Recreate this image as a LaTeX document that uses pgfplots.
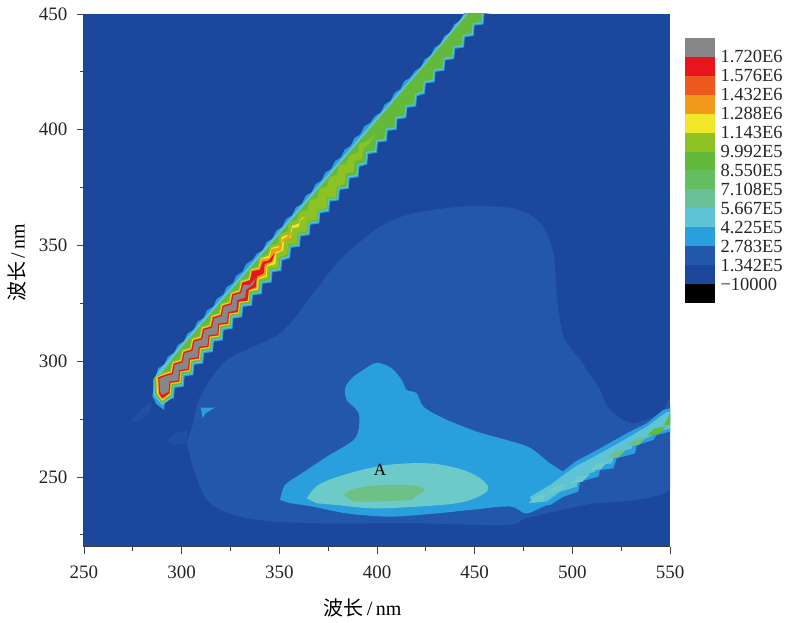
\documentclass[border=0pt]{standalone}
\usepackage{pgfplots}
\pgfplotsset{compat=1.18}
\usepackage{fontspec}
\setmainfont{Liberation Serif}
\newfontfamily\cjk{Noto Sans CJK SC}
\definecolor{cBg}{HTML}{1B489D}
\definecolor{cMid}{HTML}{2257AB}
\definecolor{cLB}{HTML}{2A9FDD}
\definecolor{cCy}{HTML}{5FC3D6}
\definecolor{cPale}{HTML}{6CCBC9}
\definecolor{cTeal}{HTML}{6DC187}
\definecolor{cGr}{HTML}{62B93C}
\definecolor{cYG}{HTML}{8DC224}
\definecolor{cYe}{HTML}{F1E62A}
\definecolor{cOr}{HTML}{F39A1C}
\definecolor{cOR}{HTML}{EE5A1E}
\definecolor{cRe}{HTML}{E8141E}
\definecolor{cGy}{HTML}{87878A}
\begin{document}
\begin{tikzpicture}
\path[use as bounding box] (-84pt,-75.5pt) rectangle (703pt,546.5pt);
\begin{axis}[
  at={(0pt,0pt)},anchor=south west,scale only axis,width=586pt,height=532.5pt,
  xmin=250,xmax=550,ymin=220,ymax=450,
  axis lines*=left,axis line style={-,line width=1pt,draw=black!75},
  axis background/.style={fill=cBg},axis on top,
  xtick={250,300,350,400,450,500,550},ytick={250,300,350,400,450},
  minor xtick={275,325,375,425,475,525},minor ytick={225,275,325,375,425},
  tick align=outside,major tick length=7pt,minor tick length=4pt,
  tick style={line width=0.9pt,draw=black!75},
  /pgf/number format/assume math mode=true,
  tick label style={font=\fontsize{19}{19}\selectfont,text=black!85},
  xticklabel style={yshift=-9pt},yticklabel style={xshift=-6pt},
  xlabel={{\cjk 波长}\,/\,nm},ylabel={{\cjk 波长}\,/\,nm},
  xlabel style={font=\fontsize{20}{20}\selectfont,at={(axis description cs:0.4753,-0.1155)},anchor=center},
  ylabel style={font=\fontsize{20}{20}\selectfont,at={(axis description cs:-0.1143,0.533)},anchor=center,rotate=0},
]
% 2.783E5 region
\addplot[fill=cMid,draw=none,forget plot,smooth,tension=0.5] coordinates {(302.6,264.6)(306.9,251.6)(314.6,238.6)(333.4,232.2)(367.5,230)(418.7,230)(466.5,229.3)(476.7,232.2)(505.7,237.9)(550,245)(550,282)(546,278)(531,273.3)(519.3,279)(514.2,287.6)(504,300.6)(495.5,310.6)(492.1,327.9)(490.4,346.6)(483.6,359.6)(469.9,366)(444.3,366.8)(418.7,363.9)(401.6,358.2)(381.1,343.8)(367.5,329.4)(350.4,312.1)(323.1,300.6)(309.5,284.7)(306,273.2)} --cycle;
\addplot[fill=cMid!50!cBg,draw=none,forget plot] coordinates {(273.6,273.9)(279,279)(284.7,283)(284,278)(278,274)} --cycle;
\addplot[fill=cMid!50!cBg,draw=none,forget plot] coordinates {(292.4,265.3)(297,269)(303,270)(302.6,265)(296,264)} --cycle;
% 4.225E5 region
\addplot[fill=cLB,draw=none,forget plot,smooth,tension=0.5] coordinates {(350.4,240.1)(352.9,246.6)(361.5,251.6)(374.3,258.8)(388.8,266.7)(391,276.1)(388.8,279.7)(384.5,283.3)(383.6,288.3)(387.1,292.7)(393,296.3)(399.9,299.4)(407.5,297)(412.7,291.9)(415.2,287.6)(420.3,286.2)(423.8,280.4)(434,275.4)(451.1,269.6)(466.4,266)(478.4,262.6)(488.6,255.9)(496.3,251.6)(495,250)(490,240)(482,236)(475.8,234.3)(468,237.3)(447.7,235.8)(430.6,234.3)(406.7,232.9)(384.5,234.3)(367.4,237.2)(355.5,238.7)} --cycle;
\addplot[fill=cLB,draw=none,forget plot] coordinates {(309.7,280)(317.1,280)(312,277.4)(310.8,275.3)} --cycle;
% 5.667E5
\addplot[fill=cPale,draw=none,forget plot,smooth,tension=0.6] coordinates {(364,240.8)(370,246.6)(382.8,250.9)(399.9,254.5)(415.2,255.9)(430.6,255.6)(444.2,253)(452.8,249.5)(457,245.1)(451.9,241.5)(440.8,238.7)(420.3,237.2)(398.2,236.5)(379.4,237.9)(369.1,238.7)} --cycle;
% 7.108E5
\addplot[fill=cTeal,draw=none,forget plot,smooth,tension=0.5] coordinates {(382.8,242.3)(387.1,244.7)(396.5,246.2)(410.1,246.6)(420.3,246.2)(424.6,244.4)(419.5,241.5)(416.9,240.1)(399.9,239.4)(387.9,239.4)} --cycle;
% second-order band
\addplot[fill=cLB,draw=none,forget plot] coordinates {(478.4,237.2)(476,240)(488.6,248)(501.4,256.6)(514.2,262.4)(527.9,268.9)(538.1,273.2)(546.6,279)(550,279.7)(550,269.6)(543.2,268.2)(541.5,266)(533,263.8)(532.1,260.2)(522.7,258.1)(521,253.8)(514.2,253)(513.4,250.2)(504,248)(503,243.7)(495.4,241.5)(488.6,237.9)} --cycle;
\addplot[fill=cCy,draw=none,forget plot] coordinates {(478.4,241.5)(488.6,246.6)(501.4,254.5)(514.2,260.2)(527.9,266.7)(538.1,271.8)(548.4,278.2)(550,278.2)(550,271)(543.2,269.6)(539.8,267.4)(531.3,265.3)(530.4,262.4)(521.9,260.2)(520.2,255.9)(512.5,255.2)(511.6,252.3)(503.1,250.2)(502.3,245.8)(493.7,243.7)(486.9,239.4)(479.2,238.9)} --cycle;
\addplot[fill=cPale,draw=none,forget plot] coordinates {(477.6,238.8)(481.6,241.8)(487.6,242.8)(483.6,239.3)} --cycle;
\addplot[fill=cPale,draw=none,forget plot] coordinates {(487,243.1)(491,246.1)(497,247.1)(493,243.6)} --cycle;
\addplot[fill=cPale,draw=none,forget plot] coordinates {(499,247.4)(503,250.4)(509,251.4)(505,247.9)} --cycle;
\addplot[fill=cPale,draw=none,forget plot] coordinates {(508.4,252.8)(512.4,255.8)(518.4,256.8)(514.4,253.3)} --cycle;
\addplot[fill=cTeal,draw=none,forget plot] coordinates {(517.7,258)(521.7,261)(527.7,262)(523.7,258.5)} --cycle;
\addplot[fill=cTeal,draw=none,forget plot] coordinates {(528,263.3)(532,266.3)(538,267.3)(534,263.8)} --cycle;
\addplot[fill=cGr,draw=none,forget plot] coordinates {(538.2,268)(542.2,271)(548.2,272)(544.2,268.5)} --cycle;
\addplot[fill=cGr,draw=none,forget plot] coordinates {(547,272.5)(550,277.5)(550,272.5)} --cycle;
% first-order band: outermost
\addplot[fill=cLB,draw=none,forget plot] coordinates {(285,285)(287,281.5)(291,279)(291.5,283.5)(296,284)(296.5,288.5)(301,289)(301.5,293.5)(306,294)(306.5,298.5)(311,299)(311.5,303.5)(316,304)(316.5,308.5)(321,309)(321.5,313.5)(326,314)(326.5,318.5)(331,319)(331.5,323.5)(336,324)(336.5,328.5)(341,329)(341.5,333.5)(346,334)(346.5,338.5)(351,339)(351.5,343.5)(355.5,344.5)(356,349)(360.5,349.5)(361,354)(365.5,354.5)(366,359)(370.5,359.5)(371,364)(375.5,364.5)(376,369)(380.5,369.5)(381,374)(385.5,374.5)(386,379)(390.5,379.5)(391,384)(395,385)(395.5,389.5)(400,390)(400.5,394.5)(405,395)(405.5,399.5)(410,400)(410.5,404.5)(415,405)(415.5,409.5)(420,410)(420.5,414.5)(424.5,415.5)(425,420)(429.5,420.5)(430,425)(434.5,425.5)(435,430)(439.5,430.5)(440,435)(444.5,435.5)(445,440)(449.5,440.5)(450,445)(454.5,445.5)(455,450)(459.5,450.5)(460,455)
(447.5,455)(447.5,452)(444.5,450.5)(442.5,447)(439.5,445.5)(437.5,442)(434.5,440.5)(432.5,437)(429.5,435.5)(427.5,432)(424.5,430.5)(422.5,427)(419.5,425.5)(417,422.5)(414,421)(412,417.5)(409,416)(407,412.5)(404,411)(402,407.5)(399,406)(396.5,403)(393.5,401.5)(391.5,398)(388.5,396.5)(386.5,393)(383.5,391.5)(381.5,388)(378.5,386.5)(376.5,383)(373.5,381.5)(371.5,378)(368.5,376.5)(366.5,373)(363.5,371.5)(361.5,368)(358.5,366.5)(356.5,363)(353.5,361.5)(351.5,358)(348.5,356.5)(346.5,353)(343.5,351.5)(341.5,348)(338.5,346.5)(336.25,343.75)(333,342)(331.25,338.75)(328,337)(326.25,333.75)(323,332)(321.25,328.75)(318,327)(316.25,323.75)(313,322)(311.25,318.75)(308,317)(306.25,313.75)(303,312)(301.25,308.75)(298,307)(296.25,303.75)(293,302)(291.25,298.75)(288,297)(287,294)} --cycle;
% cyan
\addplot[fill=cCy,draw=none,forget plot] coordinates {(285.5,285.5)(290,281)(295.5,284.5)(296,289)(300.5,289.5)(301,294)(305.5,294.5)(306,299)(310.5,299.5)(311,304)(315.5,304.5)(316,309)(320.5,309.5)(321,314)(325.5,314.5)(326,319)(330.5,319.5)(331,324)(335.5,324.5)(336,329)(340.5,329.5)(341,334)(345.5,334.5)(346,339)(350.5,339.5)(351,344)(355,345)(355.5,349.5)(360,350)(360.5,354.5)(365,355)(365.5,359.5)(370,360)(370.5,364.5)(375,365)(375.5,369.5)(380,370)(380.5,374.5)(385,375)(385.5,379.5)(390,380)(390.5,384.5)(394.5,385.5)(395,390)(399.5,390.5)(400,395)(404.5,395.5)(405,400)(409.5,400.5)(410,405)(414.5,405.5)(415,410)(419.5,410.5)(420,415)(424,416)(424.5,420.5)(429,421)(429.5,425.5)(434,426)(434.5,430.5)(439,431)(439.5,435.5)(444,436)(444.5,440.5)(449,441)(449.5,445.5)(454,446)(454.5,450.5)(459,451)(459,455)
(449,455)(446.5,451.5)(424,428.5)(397,402.5)(337,343.5)(296,303.5)(288,295.5)(285.5,292)} --cycle;
% green
\addplot[fill=cGr,draw=none,forget plot] coordinates {(286.5,285.5)(290,282)(295,285)(295.5,289.5)(300,290)(300.5,294.5)(305,295)(305.5,299.5)(310,300)(310.5,304.5)(315,305)(315.5,309.5)(320,310)(320.5,314.5)(325,315)(325.5,319.5)(330,320)(330.5,324.5)(335,325)(335.5,329.5)(340,330)(340.5,334.5)(345,335)(345.5,339.5)(350,340)(350.5,344.5)(354.5,345.5)(355,350)(359.5,350.5)(360,355)(364.5,355.5)(365,360)(369.5,360.5)(370,365)(374.5,365.5)(375,370)(379.5,370.5)(380,375)(384.5,375.5)(385,380)(389.5,380.5)(390,385)(394,386)(394.5,390.5)(399,391)(399.5,395.5)(404,396)(404.5,400.5)(409,401)(409.5,405.5)(414,406)(414.5,410.5)(419,411)(419.5,415.5)(423.5,416.5)(424,421)(428.5,421.5)(429,426)(433.5,426.5)(434,431)(438.5,431.5)(439,436)(443.5,436.5)(444,441)(448.5,441.5)(449,446)(453.5,446.5)(454,451)(458.5,451.5)(458.5,455)
(451,455)(448,451.5)(426,429.5)(398,402)(338,343)(298,304)(289.5,294.5)(286,293)} --cycle;
% yellow-green
\addplot[fill=cYG,draw=none,forget plot] coordinates {(287,286)(290,282.5)(294.5,285.5)(295,290)(299.5,290.5)(300,295)(304.5,295.5)(305,300)(309.5,300.5)(310,305)(314.5,305.5)(315,310)(319.5,310.5)(320,315)(324.5,315.5)(325,320)(329.5,320.5)(330,325)(334.5,325.5)(335,330)(339.5,330.5)(340,335)(344.5,335.5)(345,340)(349.5,340.5)(350,345)(354,346)(354.5,350.5)(359,351)(359.5,355.5)(364,356)(364.5,360.5)(369,361)(369.5,365.5)(374,366)(374.5,370.5)(379,371)(379.5,375.5)(383.5,376.5)(384,381)(388,382)(388.5,386.5)(392.5,387.5)(393,392)(396,394)(399,398)
(395,395)(391,394)(390,390)(386,389)(384.5,385.5)(380.5,384.5)(379.5,380.5)(375.5,379.5)(374.5,375.5)(370.5,374.5)(369.5,370.5)(365.5,369.5)(364.5,365.5)(360.5,364.5)(359,361)(355,360)(354,356)(350,355)(349,351)(345,350)(344,346)(340,345)(339,341)(335,340)(334,336)(330,335)(329,331)(325,330)(324,326)(320,325)(319,321)(315,320)(314,316)(310,315)(309,311)(305,310)(304,306)(300,305)(299,301)(295,300)(294,296)(290,295)(286.5,293)} --cycle;
% yellow
\addplot[fill=cYe,draw=none,forget plot] coordinates {(287.5,286)(290,283)(294.25,285.75)(294.75,290.25)(299.25,290.75)(299.75,295.25)(304.25,295.75)(304.75,300.25)(309.25,300.75)(309.75,305.25)(314.25,305.75)(314.75,310.25)(319.25,310.75)(319.75,315.25)(324.25,315.75)(324.75,320.25)(329.25,320.75)(329.75,325.25)(334.25,325.75)(334.75,330.25)(339,331)(339.5,335.5)(343.5,336.5)(344,341)(348,342)(348.5,346.5)(352,348)(352.5,352.5)(356,353.5)(356.5,357.5)(360,358)(360.5,361)(363,362)
(361.5,362)(360,359.5)(356.5,358.5)(355.5,355)(351.25,353.75)(350.5,350)(346,349)(344.5,345.5)(340.5,344.5)(339.5,340.5)(335.5,339.5)(334.5,335.5)(330.5,334.5)(329.5,330.5)(325.5,329.5)(324.5,325.5)(320.5,324.5)(319.5,320.5)(315.5,319.5)(314.5,315.5)(310.5,314.5)(309.5,310.5)(305.5,309.5)(304.5,305.5)(300.5,304.5)(299.5,300.5)(295.5,299.5)(294.5,295.5)(290.5,294.5)(287,293)} --cycle;
% orange
\addplot[fill=cOr,draw=none,forget plot] coordinates {(288,286)(290,283.5)(294,286)(294.5,290.5)(299,291)(299.5,295.5)(304,296)(304.5,300.5)(309,301)(309.5,305.5)(314,306)(314.5,310.5)(319,311)(319.5,315.5)(324,316)(324.5,320.5)(329,321)(329.5,325.5)(334,326)(334.5,330.5)(338.5,331.5)(339,336)(343,337)(343.5,341.5)(347,343)(347.5,347)(351,348)(351.5,351.5)(355,353)(357,356.5)
(354,354)(351.5,352.5)(349.5,349)(346,348.5)(345,344.5)(340.75,344.25)(339.75,340.25)(335.75,339.25)(334.75,335.25)(330.75,334.25)(329.75,330.25)(325.75,329.25)(324.75,325.25)(320.75,324.25)(319.75,320.25)(315.75,319.25)(314.75,315.25)(310.75,314.25)(309.75,310.25)(305.75,309.25)(304.75,305.25)(300.75,304.25)(299.75,300.25)(295.75,299.25)(294.75,295.25)(290.75,294.25)(287.5,293)} --cycle;
% red
\addplot[fill=cRe,draw=none,forget plot] coordinates {(288.5,286)(290,284)(293.75,286.25)(294.25,290.75)(298.75,291.25)(299.25,295.75)(303.75,296.25)(304.25,300.75)(308.75,301.25)(309.25,305.75)(313.75,306.25)(314.25,310.75)(318.75,311.25)(319.25,315.75)(323.75,316.25)(324.25,320.75)(328.75,321.25)(329.25,325.75)(333.75,326.25)(334.25,330.75)(338,332)(338.5,336.5)(342,338)(342.5,342)(346,343)(348,347)
(344.5,343.5)(341.5,343)(340,339.5)(336,339)(335,335)(331,334)(330,330)(326,329)(325,325)(321,324)(320,320)(316,319)(315,315)(311,314)(310,310)(306,309)(305,305)(301,304)(300,300)(296,299)(295,295)(291,294)(288,293)} --cycle;
% grey
\addplot[fill=cGy,draw=none,forget plot] coordinates {(289,287)(289.8,285.5)(293.25,286.75)(293.75,291.25)(298.25,291.75)(298.75,296.25)(303.25,296.75)(303.75,301.25)(308.25,301.75)(308.75,306.25)(313.25,306.75)(313.75,311.25)(318.25,311.75)(318.75,316.25)(323.25,316.75)(323.75,321.25)(328,322)(328.5,326.5)(332.5,327.5)(333,331)(336.5,333)(338,336)
(335,333)(331.5,333)(330.5,329.5)(326.5,328.5)(325.5,324.5)(321.5,323.5)(320.5,319.5)(316.5,318.5)(315.5,314.5)(311.5,313.5)(310.5,309.5)(306.5,308.5)(305.5,304.5)(301.5,303.5)(300.5,299.5)(296.5,298.5)(295.5,294.5)(291.5,293.5)(288.5,292.5)} --cycle;
\node[font=\fontsize{17}{17}\selectfont] at (axis cs:401.5,253) {A};
\end{axis}
\begin{axis}[
  at={(601pt,243.5pt)},anchor=south west,scale only axis,width=30pt,height=265pt,
  xmin=0,xmax=1,ymin=0,ymax=14,
  hide x axis,axis y line=right,y axis line style={draw=none},
  major tick length=0pt,ytick={1,...,13},
  yticklabels={−10000,1.342E5,2.783E5,4.225E5,5.667E5,7.108E5,8.550E5,9.992E5,1.143E6,1.288E6,1.432E6,1.576E6,1.720E6},
  yticklabel style={anchor=west,xshift=2pt,inner ysep=1pt,font=\fontsize{18.5}{18.5}\selectfont,text=black!85},
]
\addplot[fill=black,draw=none] coordinates {(0,0)(1,0)(1,1)(0,1)} --cycle;
\addplot[fill=cBg,draw=none] coordinates {(0,1)(1,1)(1,2)(0,2)} --cycle;
\addplot[fill=cMid,draw=none] coordinates {(0,2)(1,2)(1,3)(0,3)} --cycle;
\addplot[fill=cLB,draw=none] coordinates {(0,3)(1,3)(1,4)(0,4)} --cycle;
\addplot[fill=cCy,draw=none] coordinates {(0,4)(1,4)(1,5)(0,5)} --cycle;
\addplot[fill=cTeal!80!cCy,draw=none] coordinates {(0,5)(1,5)(1,6)(0,6)} --cycle;
\addplot[fill=cTeal!50!cGr,draw=none] coordinates {(0,6)(1,6)(1,7)(0,7)} --cycle;
\addplot[fill=cGr,draw=none] coordinates {(0,7)(1,7)(1,8)(0,8)} --cycle;
\addplot[fill=cYG,draw=none] coordinates {(0,8)(1,8)(1,9)(0,9)} --cycle;
\addplot[fill=cYe,draw=none] coordinates {(0,9)(1,9)(1,10)(0,10)} --cycle;
\addplot[fill=cOr,draw=none] coordinates {(0,10)(1,10)(1,11)(0,11)} --cycle;
\addplot[fill=cOR,draw=none] coordinates {(0,11)(1,11)(1,12)(0,12)} --cycle;
\addplot[fill=cRe,draw=none] coordinates {(0,12)(1,12)(1,13)(0,13)} --cycle;
\addplot[fill=cGy,draw=none] coordinates {(0,13)(1,13)(1,14)(0,14)} --cycle;
\end{axis}
\end{tikzpicture}
\end{document}
